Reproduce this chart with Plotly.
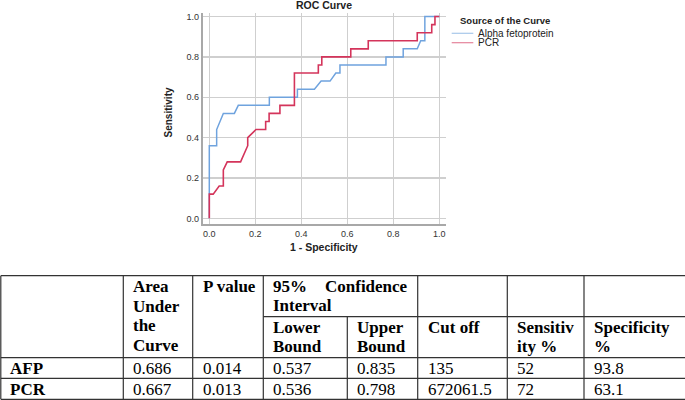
import plotly.graph_objects as go

# ---------------- ROC data ----------------
afp_fpr = [0, 0, 0.032, 0.032, 0.061, 0.109, 0.126, 0.261, 0.261, 0.383, 0.383, 0.457, 0.486,
           0.525, 0.55, 0.568, 0.568, 0.768, 0.768, 0.843, 0.843, 0.904, 0.919, 0.937, 0.937, 1.0]
afp_tpr = [0, 0.36, 0.36, 0.44, 0.52, 0.52, 0.56, 0.56, 0.60, 0.60, 0.64, 0.64, 0.68,
           0.68, 0.72, 0.72, 0.76, 0.76, 0.80, 0.80, 0.84, 0.84, 0.88, 0.88, 1.0, 1.0]
pcr_fpr = [0, 0, 0.017, 0.043, 0.061, 0.061, 0.078, 0.136, 0.167, 0.167, 0.203, 0.245, 0.245,
           0.26, 0.26, 0.307, 0.307, 0.37, 0.37, 0.474, 0.474, 0.489, 0.489, 0.615, 0.615,
           0.691, 0.691, 0.904, 0.904, 0.967, 0.967, 0.981, 0.981, 1.0]
pcr_tpr = [0, 0.12, 0.12, 0.16, 0.16, 0.24, 0.28, 0.28, 0.36, 0.40, 0.44, 0.44, 0.48,
           0.48, 0.52, 0.52, 0.56, 0.56, 0.72, 0.72, 0.76, 0.76, 0.80, 0.80, 0.84,
           0.84, 0.88, 0.88, 0.92, 0.92, 0.96, 0.96, 1.0, 1.0]
series_names = ["Alpha fetoprotein", "PCR"]
tick_vals = [0.0, 0.2, 0.4, 0.6, 0.8, 1.0]
tick_text = ["0.0", "0.2", "0.4", "0.6", "0.8", "1.0"]

# ---------------- Table data ----------------
row_labels = ["AFP", "PCR"]
auc_vals = ["0.686", "0.667"]
p_vals = ["0.014", "0.013"]
lower_vals = ["0.537", "0.536"]
upper_vals = ["0.835", "0.798"]
cutoff_vals = ["135", "672061.5"]
sens_vals = ["52", "72"]
spec_vals = ["93.8", "63.1"]
hdr_auc = ["Area", "Under", "the", "Curve"]
hdr_p = ["P value"]
hdr_ci = ["95%", "Confidence", "Interval"]
hdr_lower = ["Lower", "Bound"]
hdr_upper = ["Upper", "Bound"]
hdr_cut = ["Cut off"]
hdr_sens = ["Sensitiv", "ity %"]
hdr_spec = ["Specificity", "%"]

# ---------------- layout constants (pixels) ----------------
W, H = 685, 400
BLUE = "#6fa3de"
RED = "#d4345b"
SANS = "Liberation Sans, Arial, sans-serif"
SERIF = "Liberation Serif, Times New Roman, serif"

plot_l, plot_r, plot_t, plot_b = 202.7, 446.0, 12.5, 224.0

fig = go.Figure()
fig.add_trace(go.Scatter(x=afp_fpr, y=afp_tpr, mode="lines", name=series_names[0],
                         line=dict(color=BLUE, width=1.5), showlegend=False, hoverinfo="skip"))
fig.add_trace(go.Scatter(x=pcr_fpr, y=pcr_tpr, mode="lines", name=series_names[1],
                         line=dict(color=RED, width=1.6), showlegend=False, hoverinfo="skip"))
# dummy trace so the pixel-coordinate axes exist
fig.add_trace(go.Scatter(x=[None], y=[None], xaxis="x2", yaxis="y2", showlegend=False,
                         hoverinfo="skip"))

axis_common = dict(showgrid=True, gridcolor="#cfcfcf", gridwidth=1.5, zeroline=False,
                   showline=True, linecolor="#a8a8a8", linewidth=2, ticks="",
                   tickvals=tick_vals, ticktext=tick_text,
                   tickfont=dict(family=SANS, size=9, color="#333333"))

fig.update_layout(
    width=W, height=H, margin=dict(l=0, r=0, t=0, b=0),
    paper_bgcolor="white", plot_bgcolor="rgba(0,0,0,0)",
    xaxis=dict(domain=[plot_l / W, plot_r / W], range=[-0.0287, 1.029], **axis_common),
    yaxis=dict(domain=[1 - plot_b / H, 1 - plot_t / H], range=[-0.028, 1.02], **axis_common),
    xaxis2=dict(domain=[0, 1], range=[0, W], visible=False, anchor="y2", fixedrange=True),
    yaxis2=dict(domain=[0, 1], range=[H, 0], visible=False, anchor="x2", fixedrange=True),
)

ann = []
shapes = []

# titles
ann.append(dict(text="<b>ROC Curve</b>", x=324, y=5.0, xref="x2", yref="y2", showarrow=False,
                xanchor="center", yanchor="middle", font=dict(family=SANS, size=10.5, color="#222")))
ann.append(dict(text="<b>1 - Specificity</b>", x=324, y=246.7, xref="x2", yref="y2", showarrow=False,
                xanchor="center", yanchor="middle", font=dict(family=SANS, size=10.5, color="#222")))
ann.append(dict(text="<b>Sensitivity</b>", x=168, y=112.5, xref="x2", yref="y2", showarrow=False,
                textangle=-90, xanchor="center", yanchor="middle",
                font=dict(family=SANS, size=10, color="#222")))

# legend (manual, compact like the reference)
ann.append(dict(text="<b>Source of the Curve</b>", x=457.5, y=20, xref="x2", yref="y2", showarrow=False,
                xanchor="left", yanchor="middle", font=dict(family=SANS, size=9.5, color="#222")))
for name, col, yy in zip(series_names, [BLUE, RED], [33.3, 42.7]):
    shapes.append(dict(type="line", xref="x2", yref="y2", x0=451.7, x1=473.3, y0=yy, y1=yy,
                       line=dict(color=col, width=1.2), opacity=0.6))
    ann.append(dict(text=name, x=475.5, y=yy, xref="x2", yref="y2", showarrow=False,
                    xanchor="left", yanchor="middle", font=dict(family=SANS, size=10, color="#222")))

# ---------------- table grid ----------------
col_x = [0.8, 123.3, 192.7, 263.3, 347.3, 417.7, 507.3, 584.0, 700.0]
row_y = [275.7, 316.7, 357.7, 378.3, 399.3]
LINE = dict(color="#333333", width=1.2)

def hline(y, x0, x1):
    shapes.append(dict(type="line", xref="x2", yref="y2", x0=x0, x1=x1, y0=y, y1=y, line=LINE))

def vline(x, y0, y1):
    shapes.append(dict(type="line", xref="x2", yref="y2", x0=x, x1=x, y0=y0, y1=y1, line=LINE))

hline(row_y[0], col_x[0], col_x[-1])
hline(row_y[1], col_x[3], col_x[-1])
for r in row_y[2:]:
    hline(r, col_x[0], col_x[-1])
for i, cx in enumerate(col_x[:-1]):
    if i == 4:
        vline(cx, row_y[1], row_y[-1])
    else:
        vline(cx, row_y[0], row_y[-1])

FS = 17
PAD = 7.8

def txt(s, x, baseline, bold=False, anchor="left"):
    ann.append(dict(text=("<b>%s</b>" % s) if bold else s, x=x, y=baseline - 0.33 * FS,
                    xref="x2", yref="y2", showarrow=False, xanchor=anchor, yanchor="middle",
                    font=dict(family=SERIF, size=FS, color="black")))

# header lines
for s, b in zip(hdr_auc, [292.0, 311.7, 331.5, 351.0]):
    txt(s, col_x[1] + PAD, b, True)
txt(hdr_p[0], col_x[2] + PAD, 292.0, True)
txt(hdr_ci[0], col_x[3] + PAD, 291.7, True)
txt(hdr_ci[1], col_x[5] - PAD, 291.7, True, anchor="right")
txt(hdr_ci[2], col_x[3] + PAD, 310.7, True)
for ci, hdr in [(3, hdr_lower), (4, hdr_upper), (5, hdr_cut), (6, hdr_sens), (7, hdr_spec)]:
    for s, b in zip(hdr, [333.3, 352.3]):
        txt(s, col_x[ci] + PAD, b, True)

# body rows
body_cols = [auc_vals, p_vals, lower_vals, upper_vals, cutoff_vals, sens_vals, spec_vals]
for ri, b in enumerate([374.3, 395.5]):
    txt(row_labels[ri], col_x[0] + 7.5, b, True)
    for ci, vals in enumerate(body_cols):
        txt(vals[ri], col_x[ci + 1] + PAD, b, False)

fig.update_layout(annotations=ann, shapes=shapes)
fig.write_html("out.html", config={"displayModeBar": False, "staticPlot": True},
               post_script="document.body.style.margin='0px';")
